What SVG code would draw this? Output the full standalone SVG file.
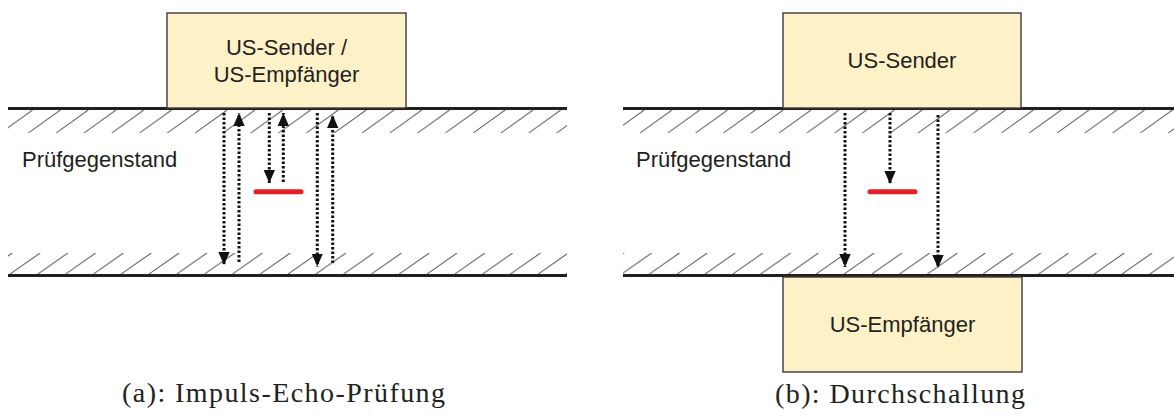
<svg xmlns="http://www.w3.org/2000/svg" width="1174" height="417" viewBox="0 0 1174 417">
  <style>
    .box { fill: #fdf1c8; stroke: #3a3a3a; stroke-width: 1.4; }
    .surface { stroke: #231f20; stroke-width: 3; fill: none; }
    .label { font-family: "Liberation Sans", Arial, sans-serif; font-size: 22px; fill: #231f20; }
    .caption { font-family: "Liberation Serif", "Times New Roman", serif; font-size: 28px; fill: #222; }
    .ray { stroke: #111; stroke-width: 3; stroke-dasharray: 2.6 1.9; fill: none; }
    .defect { stroke: #e51f26; stroke-width: 5; stroke-linecap: round; }
    .hatch { stroke: #555; stroke-width: 1; }
  </style>
  <defs>
    <!-- diagonal hatching for the upper edge band -->
    <pattern id="hatchTop" patternUnits="userSpaceOnUse" x="28.3" y="110" width="27.8" height="23">
      <line class="hatch" x1="0" y1="23" x2="32" y2="0"/>
      <line class="hatch" x1="-27.8" y1="23" x2="4.2" y2="0"/>
    </pattern>
    <!-- diagonal hatching for the lower edge band -->
    <pattern id="hatchBottom" patternUnits="userSpaceOnUse" x="10" y="253" width="27.8" height="21">
      <line class="hatch" x1="0" y1="21" x2="30" y2="0"/>
      <line class="hatch" x1="-27.8" y1="21" x2="2.2" y2="0"/>
    </pattern>
    <marker id="head" viewBox="0 0 13 12" refX="13" refY="6" markerWidth="13" markerHeight="12" markerUnits="userSpaceOnUse" orient="auto">
      <path d="M0,0.3 L13,6 L0,11.7 Z" fill="#111"/>
    </marker>
  </defs>

  <!-- (a) pulse-echo test piece -->
  <g id="testpiece-a">
    <rect x="8" y="110" width="559" height="23" fill="url(#hatchTop)"/>
    <rect x="8" y="253" width="559" height="21" fill="url(#hatchBottom)"/>
    <line class="surface" x1="8" y1="108.5" x2="567" y2="108.5"/>
    <line class="surface" x1="8" y1="275.5" x2="567" y2="275.5"/>
    <text class="label" x="22" y="167">Prüfgegenstand</text>
  </g>
  <g id="transducer-a">
    <rect class="box" x="167" y="13" width="239" height="95"/>
    <text class="label" x="286.5" y="55" text-anchor="middle">US-Sender /</text>
    <text class="label" x="286.5" y="82" text-anchor="middle">US-Empfänger</text>
  </g>
  <g id="defect-a">
    <line class="defect" x1="256" y1="191.7" x2="301" y2="191.7"/>
  </g>

  <!-- (b) through-transmission test piece -->
  <g id="testpiece-b">
    <rect x="623" y="110" width="551" height="23" fill="url(#hatchTop)"/>
    <rect x="623" y="253" width="551" height="21" fill="url(#hatchBottom)"/>
    <line class="surface" x1="623" y1="108.5" x2="1174" y2="108.5"/>
    <line class="surface" x1="623" y1="275.5" x2="1174" y2="275.5"/>
    <text class="label" x="636" y="167">Prüfgegenstand</text>
  </g>
  <g id="sender-b">
    <rect class="box" x="783" y="13" width="238" height="95"/>
    <text class="label" x="902" y="68" text-anchor="middle">US-Sender</text>
  </g>
  <g id="receiver-b">
    <rect class="box" x="783" y="277" width="239" height="95"/>
    <text class="label" x="902.5" y="332" text-anchor="middle">US-Empfänger</text>
  </g>
  <g id="defect-b">
    <line class="defect" x1="870" y1="191.7" x2="915" y2="191.7"/>
  </g>

  <!-- sound paths -->
  <g id="connectors">
    <line class="ray" x1="224" y1="113" x2="224" y2="265" marker-end="url(#head)"/>
    <line class="ray" x1="239" y1="262" x2="239" y2="113" marker-end="url(#head)"/>
    <line class="ray" x1="269.3" y1="113" x2="269.3" y2="183" marker-end="url(#head)"/>
    <line class="ray" x1="283.3" y1="182" x2="283.3" y2="113" marker-end="url(#head)"/>
    <line class="ray" x1="317.3" y1="113" x2="317.3" y2="266.5" marker-end="url(#head)"/>
    <line class="ray" x1="332.7" y1="263" x2="332.7" y2="115" marker-end="url(#head)"/>

    <line class="ray" x1="845" y1="113" x2="845" y2="267" marker-end="url(#head)"/>
    <line class="ray" x1="890" y1="113" x2="890" y2="184" marker-end="url(#head)"/>
    <line class="ray" x1="938" y1="115" x2="938" y2="268" marker-end="url(#head)"/>
  </g>

  <text class="caption" x="122" y="402" textLength="323" lengthAdjust="spacing">(a): Impuls-Echo-Prüfung</text>
  <text class="caption" x="775" y="403" textLength="250" lengthAdjust="spacing">(b): Durchschallung</text>
</svg>
